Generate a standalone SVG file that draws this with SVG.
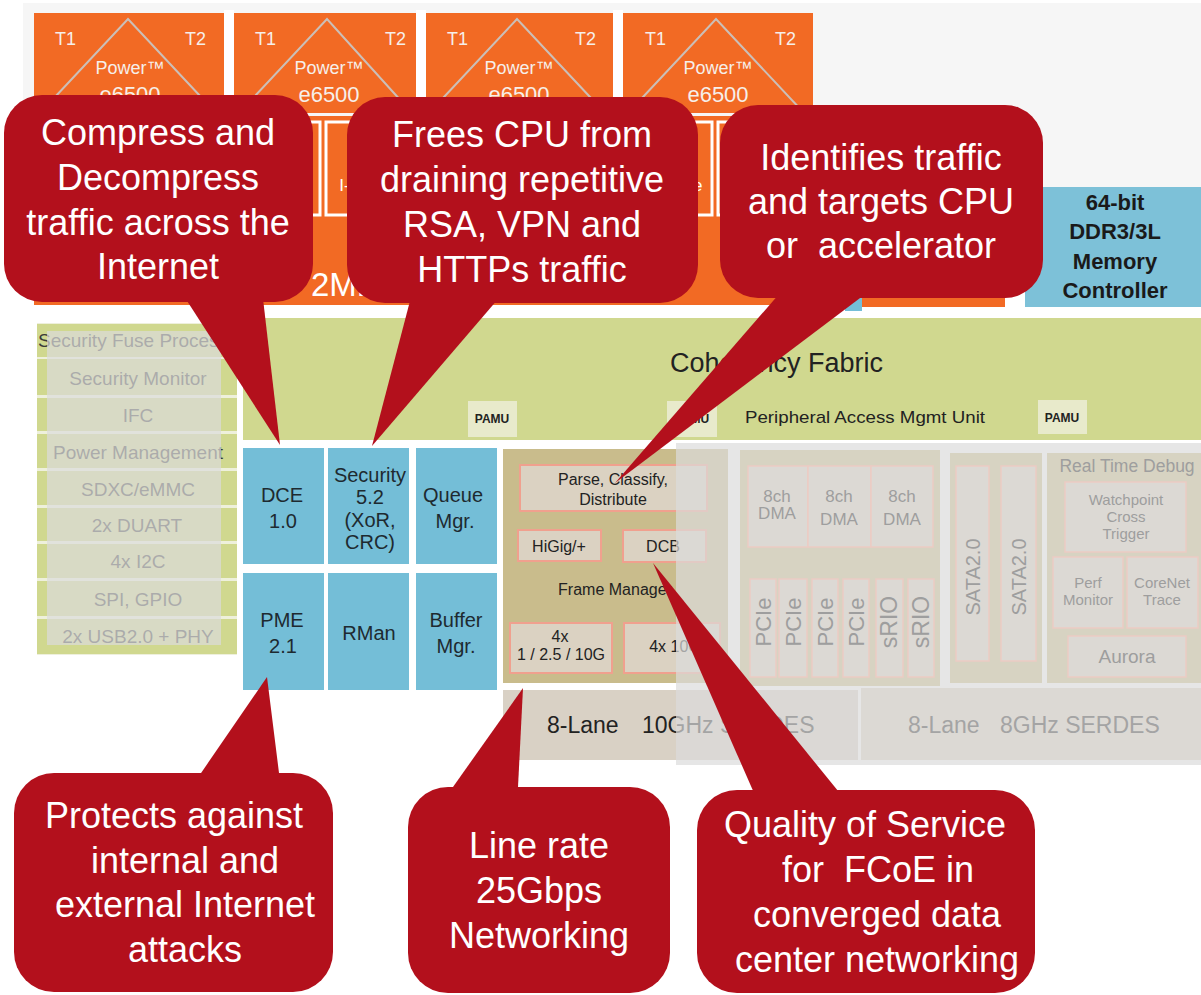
<svg xmlns="http://www.w3.org/2000/svg" width="1201" height="995" viewBox="0 0 1201 995">
<defs>
<style>
text{font-family:"Liberation Sans",Arial,sans-serif}
.core{fill:#f26a24}
.cw{fill:#f6efea}
.roof{stroke:#cbbfb8;stroke-width:2;fill:none}
.cache{fill:#f26a24;stroke:#ffffff;stroke-width:3}
.blue{fill:#74bed7}
.bt{fill:#1e2a30;font-size:20px;text-anchor:middle}
.lrow{fill:#d0d88f}
.lt{fill:#3a3a3a;font-size:19px;text-anchor:middle}
.fm{fill:#c9bc8c}
.fmb{fill:#dbd2c2;stroke:#f0a08e;stroke-width:2}
.ft{fill:#222;font-size:16px;text-anchor:middle}
.ra{fill:#d7d3c2}
.rb{fill:#dcd9d4;stroke:#eccbc3;stroke-width:1.5}
.rt{fill:#9e9e9e;text-anchor:middle}
.ov{fill:#dbdbdb;opacity:0.7}
.cb{fill:#b3101c}
.ct{fill:#ffffff;font-size:36px;text-anchor:middle}
.pamu{fill:#e8eacb}
.pt{fill:#222;font-size:12px;font-weight:bold;text-anchor:middle}
</style>
<clipPath id="row1clip"><rect x="37" y="323" width="184" height="35"/></clipPath>
</defs>
<rect x="0" y="0" width="1201" height="995" fill="#ffffff"/>
<rect x="23" y="3" width="1178" height="184" fill="#f6f6f6"/>

<g id="cores">
<rect x="224" y="10" width="10" height="106" fill="#ffffff"/>
<rect x="416" y="10" width="10" height="106" fill="#ffffff"/>
<rect x="613" y="10" width="10" height="106" fill="#ffffff"/>
<rect class="core" x="34" y="13" width="190" height="100"/>
<rect class="core" x="234" y="13" width="182" height="100"/>
<rect class="core" x="426" y="13" width="187" height="100"/>
<rect class="core" x="623" y="13" width="190" height="100"/>
<path class="roof" d="M40,113 L128,19 L216,113 M239,113 L327,19 L412,113 M429,113 L517,19 L605,113 M628,113 L716,19 L804,113"/>
<g class="cw" font-size="18">
<text x="55" y="45">T1</text><text x="185" y="45">T2</text>
<text x="255" y="45">T1</text><text x="385" y="45">T2</text>
<text x="447" y="45">T1</text><text x="575" y="45">T2</text>
<text x="645" y="45">T1</text><text x="775" y="45">T2</text>
</g>
<g class="cw" text-anchor="middle">
<text x="130" y="74" font-size="18">Power™</text><text x="130" y="102" font-size="22">e6500</text>
<text x="329" y="74" font-size="18">Power™</text><text x="329" y="102" font-size="22">e6500</text>
<text x="519" y="74" font-size="18">Power™</text><text x="519" y="102" font-size="22">e6500</text>
<text x="718" y="74" font-size="18">Power™</text><text x="718" y="102" font-size="22">e6500</text>
</g>
</g>

<g id="l2-cluster">
<rect class="core" x="34" y="116" width="811" height="189"/>
<rect class="blue" x="845" y="187" width="17" height="124"/>
<rect class="core" x="862" y="187" width="143" height="120"/>
<rect class="cache" x="38" y="122" width="89" height="93"/>
<rect class="cache" x="133" y="122" width="87" height="93"/>
<rect class="cache" x="238" y="122" width="82" height="93"/>
<rect class="cache" x="326" y="122" width="86" height="93"/>
<rect class="cache" x="430" y="122" width="87" height="93"/>
<rect class="cache" x="523" y="122" width="86" height="93"/>
<rect class="cache" x="627" y="122" width="85" height="93"/>
<rect class="cache" x="718" y="122" width="91" height="93"/>
<g fill="#ffffff" font-size="17" text-anchor="middle">
<text x="279" y="191">D-Cache</text><text x="369" y="191">I-Cache</text>
<text x="669" y="191">D-Cache</text>
</g>
<text x="311" y="296" fill="#ffffff" font-size="33">2MB</text>
</g>

<g id="memory-controller">
<rect x="1025" y="187" width="176" height="120" fill="#7dc1d8"/>
<g fill="#1a1a1a" font-size="22" font-weight="bold" text-anchor="middle">
<text x="1115" y="210">64-bit</text>
<text x="1115" y="239">DDR3/3L</text>
<text x="1115" y="269">Memory</text>
<text x="1115" y="298">Controller</text>
</g>
</g>

<g id="coherency-fabric">
<rect x="243" y="318" width="958" height="122" fill="#d0d88f"/>
<text x="670" y="372" fill="#222" font-size="27">Coherency Fabric</text>
<rect class="pamu" x="468" y="401" width="49" height="36"/>
<text class="pt" x="492" y="423">PAMU</text>
<rect class="pamu" x="667" y="401" width="50" height="36"/>
<text class="pt" x="692" y="423">PAMU</text>
<rect class="pamu" x="1038" y="400" width="49" height="34"/>
<text class="pt" x="1062" y="422">PAMU</text>
<text x="745" y="423" fill="#222" font-size="17" textLength="240" lengthAdjust="spacingAndGlyphs">Peripheral  Access Mgmt Unit</text>
</g>

<g id="peripherals-left">
<rect x="37" y="323" width="200" height="332" fill="#eef0dc"/>
<rect class="lrow" x="37" y="324" width="200" height="33"/>
<rect class="lrow" x="37" y="359" width="200" height="36"/>
<rect class="lrow" x="37" y="398" width="200" height="33"/>
<rect class="lrow" x="37" y="434" width="200" height="34"/>
<rect class="lrow" x="37" y="471" width="200" height="34"/>
<rect class="lrow" x="37" y="508" width="200" height="33"/>
<rect class="lrow" x="37" y="544" width="200" height="34"/>
<rect class="lrow" x="37" y="581" width="200" height="35"/>
<rect class="lrow" x="37" y="619" width="200" height="35"/>
<text x="38" y="347" fill="#3a3a3a" font-size="19" clip-path="url(#row1clip)">Security Fuse Processor</text>
<text class="lt" x="138" y="385">Security Monitor</text>
<text class="lt" x="138" y="422">IFC</text>
<text class="lt" x="138" y="459">Power Management</text>
<text class="lt" x="138" y="496">SDXC/eMMC</text>
<text class="lt" x="137" y="532">2x DUART</text>
<text class="lt" x="138" y="568">4x I2C</text>
<text class="lt" x="138" y="606">SPI, GPIO</text>
<text class="lt" x="138" y="643">2x USB2.0 + PHY</text>
<rect class="ov" x="47" y="331" width="174" height="314"/>
</g>

<g id="accelerators">
<rect class="blue" x="243" y="448" width="81" height="116"/>
<rect class="blue" x="328" y="448" width="81" height="116"/>
<rect class="blue" x="416" y="448" width="81" height="116"/>
<rect class="blue" x="243" y="573" width="81" height="117"/>
<rect class="blue" x="328" y="573" width="81" height="117"/>
<rect class="blue" x="416" y="573" width="81" height="117"/>
<text class="bt" x="282" y="502">DCE</text><text class="bt" x="283" y="528">1.0</text>
<text class="bt" x="370" y="482">Security</text><text class="bt" x="370" y="504">5.2</text>
<text class="bt" x="370" y="527">(XoR,</text><text class="bt" x="370" y="549">CRC)</text>
<text class="bt" x="453" y="502">Queue</text><text class="bt" x="455" y="528">Mgr.</text>
<text class="bt" x="282" y="627">PME</text><text class="bt" x="283" y="653">2.1</text>
<text class="bt" x="369" y="640">RMan</text>
<text class="bt" x="456" y="627">Buffer</text><text class="bt" x="456" y="653">Mgr.</text>
</g>

<g id="frame-manager">
<rect class="fm" x="503" y="449" width="225" height="234"/>
<rect class="fmb" x="520" y="465" width="187" height="46"/>
<text class="ft" x="613" y="485">Parse, Classify,</text>
<text class="ft" x="613" y="505">Distribute</text>
<rect class="fmb" x="518" y="530" width="83" height="31"/>
<text class="ft" x="559" y="552">HiGig/+</text>
<rect class="fmb" x="623" y="530" width="83" height="32"/>
<text class="ft" x="663" y="552">DCB</text>
<text class="ft" x="615" y="595" font-size="18">Frame Manager</text>
<rect class="fmb" x="510" y="623" width="102" height="50"/>
<text class="ft" x="560" y="642" font-size="17">4x</text>
<text class="ft" x="561" y="660" font-size="17">1 / 2.5 / 10G</text>
<rect class="fmb" x="624" y="623" width="96" height="50"/>
<text class="ft" x="675" y="652" font-size="17">4x 10G</text>
</g>

<g id="serdes-10g">
<rect x="503" y="690" width="355" height="70" fill="#d9d1c5"/>
<text x="547" y="733" fill="#222" font-size="23">8-Lane</text>
<text x="642" y="733" fill="#222" font-size="23">10GHz SERDES</text>
</g>

<rect class="ov" x="676" y="443" width="525" height="322"/>

<g id="dma-pcie">
<rect class="ra" x="740" y="450" width="200" height="236"/>
<rect class="rb" x="748" y="466" width="60" height="81"/>
<rect class="rb" x="808" y="466" width="63" height="81"/>
<rect class="rb" x="871" y="466" width="62" height="81"/>
<g class="rt" font-size="17">
<text x="777" y="502">8ch</text><text x="777" y="519">DMA</text>
<text x="839" y="502">8ch</text><text x="839" y="525">DMA</text>
<text x="902" y="502">8ch</text><text x="902" y="525">DMA</text>
</g>
<rect class="rb" x="750" y="579" width="26" height="98"/>
<rect class="rb" x="779" y="579" width="28" height="98"/>
<rect class="rb" x="812" y="579" width="26" height="98"/>
<rect class="rb" x="843" y="579" width="26" height="98"/>
<rect class="rb" x="876" y="579" width="27" height="98"/>
<rect class="rb" x="908" y="579" width="26" height="98"/>
<g class="rt" font-size="22">
<text transform="translate(771,622) rotate(-90)">PCIe</text>
<text transform="translate(801,622) rotate(-90)">PCIe</text>
<text transform="translate(833,622) rotate(-90)">PCIe</text>
<text transform="translate(864,622) rotate(-90)">PCIe</text>
<text transform="translate(897,622) rotate(-90)" font-size="23">sRIO</text>
<text transform="translate(929,622) rotate(-90)" font-size="23">sRIO</text>
</g>
</g>

<g id="sata">
<rect class="ra" x="950" y="453" width="92" height="230"/>
<rect class="rb" x="956" y="466" width="33" height="195"/>
<rect class="rb" x="1001" y="466" width="35" height="195"/>
<g class="rt" font-size="20">
<text transform="translate(980,577) rotate(-90)">SATA2.0</text>
<text transform="translate(1026,577) rotate(-90)">SATA2.0</text>
</g>
</g>

<g id="real-time-debug">
<rect class="ra" x="1047" y="453" width="154" height="230"/>
<text class="rt" x="1127" y="472" font-size="17.5">Real Time Debug</text>
<rect class="rb" x="1065" y="482" width="121" height="70"/>
<g class="rt" font-size="15">
<text x="1126" y="505">Watchpoint</text><text x="1126" y="522">Cross</text><text x="1126" y="539">Trigger</text>
</g>
<rect class="rb" x="1053" y="557" width="70" height="71"/>
<rect class="rb" x="1127" y="557" width="71" height="71"/>
<g class="rt" font-size="15">
<text x="1088" y="588">Perf</text><text x="1088" y="605">Monitor</text>
<text x="1162" y="588">CoreNet</text><text x="1162" y="605">Trace</text>
</g>
<rect class="rb" x="1068" y="636" width="118" height="41"/>
<text class="rt" x="1127" y="663" font-size="19">Aurora</text>
</g>

<g id="serdes-8g">
<rect x="861" y="688" width="340" height="72" fill="#dcd9d4"/>
<text x="908" y="733" fill="#a4a4a4" font-size="23">8-Lane</text>
<text x="1000" y="733" fill="#a4a4a4" font-size="23">8GHz SERDES</text>
</g>

<g id="connectors">
<polygon class="cb" points="180,290 262,290 280,445"/>
<polygon class="cb" points="412.6,291 504.9,291 372,446"/>
<polygon class="cb" points="786,286 876,286 615,483"/>
<polygon class="cb" points="192.8,785 280.5,785 267,677"/>
<polygon class="cb" points="444.5,799 517.4,799 523,688"/>
<polygon class="cb" points="758,802 847,802 653,563"/>
</g>

<g id="callout-dce">
<rect class="cb" x="4" y="95" width="309" height="207" rx="38"/>
<text class="ct" x="158" y="145">Compress and</text>
<text class="ct" x="158" y="190">Decompress</text>
<text class="ct" x="158" y="235">traffic across the</text>
<text class="ct" x="158" y="279">Internet</text>
</g>
<g id="callout-security">
<rect class="cb" x="347" y="97" width="351" height="206" rx="38"/>
<text class="ct" x="522" y="147">Frees CPU from</text>
<text class="ct" x="522" y="192">draining repetitive</text>
<text class="ct" x="522" y="237">RSA, VPN and</text>
<text class="ct" x="522" y="282">HTTPs traffic</text>
</g>
<g id="callout-parse">
<rect class="cb" x="720" y="105" width="323" height="193" rx="38"/>
<text class="ct" x="881" y="170">Identifies traffic</text>
<text class="ct" x="881" y="214">and targets CPU</text>
<text class="ct" x="881" y="258" xml:space="preserve">or  accelerator</text>
</g>
<g id="callout-pme">
<rect class="cb" x="14" y="773" width="319" height="219" rx="40"/>
<text class="ct" x="174" y="828">Protects against</text>
<text class="ct" x="185" y="873">internal and</text>
<text class="ct" x="185" y="917">external Internet</text>
<text class="ct" x="185" y="962">attacks</text>
</g>
<g id="callout-line-rate">
<rect class="cb" x="408" y="787" width="262" height="206" rx="40"/>
<text class="ct" x="539" y="858">Line rate</text>
<text class="ct" x="539" y="903">25Gbps</text>
<text class="ct" x="539" y="948">Networking</text>
</g>
<g id="callout-dcb">
<rect class="cb" x="697" y="790" width="338" height="203" rx="40"/>
<text class="ct" x="865" y="837">Quality of Service</text>
<text class="ct" x="878" y="882" xml:space="preserve">for  FCoE in</text>
<text class="ct" x="877" y="927">converged data</text>
<text class="ct" x="877" y="972">center networking</text>
</g>
</svg>
